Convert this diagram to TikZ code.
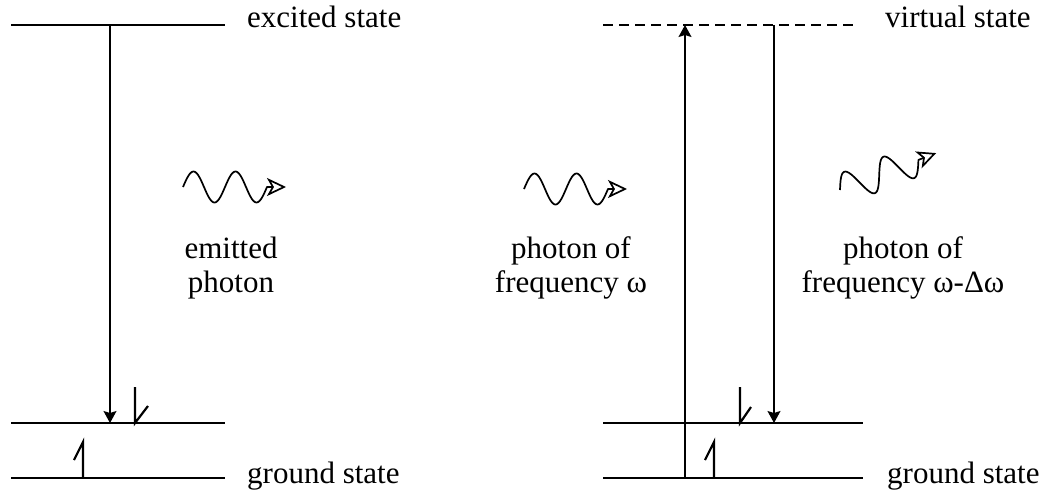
\documentclass[tikz,border=0pt]{standalone}
\usepackage{fontspec}
\setmainfont{Liberation Serif}
\usetikzlibrary{arrows.meta}
\tikzset{
  level/.style={line width=1.2pt},
  virtual/.style={line width=1.2pt, dash pattern=on 10pt off 6pt},
  trans/.style={line width=1.2pt, -{Stealth[length=12pt, width=13pt, inset=2pt]}},
  spin/.style={line width=2.2pt},
  photon/.style={line width=1.7pt, line join=round,
    -{Stealth[open, length=19pt, width=18pt, inset=5pt]}},
  lbl/.style={font=\fontsize{31}{34}\selectfont, inner sep=0pt},
}
\begin{document}
\begin{tikzpicture}[x=1pt, y=-1pt]
  \useasboundingbox (0,0) rectangle (1045,491);
  % left: emission
  \coordinate (exW) at (11,25);   \coordinate (exE) at (225,25);
  \coordinate (upW) at (11,423);  \coordinate (upE) at (225,423);
  \coordinate (gnW) at (11,478);  \coordinate (gnE) at (225,478);
  \draw[level] (exW) -- (exE);
  \draw[level] (upW) -- (upE);
  \draw[level] (gnW) -- (gnE);
  \coordinate (emTop) at (110,25);
  \coordinate (emBot) at (110,423);
  \draw[trans] (emTop) -- (emBot);
  \draw[spin] (135,387) -- (135,423) -- (148,406);
  \draw[spin] (83,478) -- (83,442) -- (74,460);
  \node[lbl, anchor=base west] (exLbl) at (247,27) {excited state};
  \node[lbl, anchor=base west] (gnLblA) at (247,483) {ground state};
  \draw[photon] plot[domain=0:84, samples=80] ({183+\x}, {187-15.5*sin(\x*8.5714)}) -- ++(19,0);
  \node[lbl, align=center] (emLbl) at (231,268) {emitted\\photon};
  % right: scattering via virtual state
  \coordinate (viW) at (603,25);  \coordinate (viE) at (858,25);
  \coordinate (rupW) at (603,423); \coordinate (rupE) at (863,423);
  \coordinate (rgnW) at (603,478); \coordinate (rgnE) at (863,478);
  \draw[virtual] (viW) -- (viE);
  \draw[level] (rupW) -- (rupE);
  \draw[level] (rgnW) -- (rgnE);
  \coordinate (abBot) at (685,478);
  \coordinate (abTop) at (685,25);
  \draw[trans] (abBot) -- (abTop);
  \coordinate (scTop) at (774,25);
  \coordinate (scBot) at (774,423);
  \draw[trans] (scTop) -- (scBot);
  \draw[spin] (740,387) -- (740,423) -- (751,407);
  \draw[spin] (714,478) -- (714,442) -- (705,460);
  \node[lbl, anchor=base west] (viLbl) at (885,27) {virtual state};
  \node[lbl, anchor=base west] (gnLblB) at (887,483) {ground state};
  \draw[photon] plot[domain=0:84, samples=80] ({524+\x}, {189-15.5*sin(\x*8.5714)}) -- ++(19,0);
  \node[lbl, align=center] (inLbl) at (571,268) {photon of\\frequency ω};
  \begin{scope}[shift={(840,190)}, rotate=21]
    \draw[photon] plot[domain=0:84, samples=80] (\x, {-15.5*sin(\x*8.5714)}) -- ++(19,0);
  \end{scope}
  \node[lbl, align=center] (outLbl) at (903,268) {photon of\\frequency ω-Δω};
\end{tikzpicture}
\end{document}
